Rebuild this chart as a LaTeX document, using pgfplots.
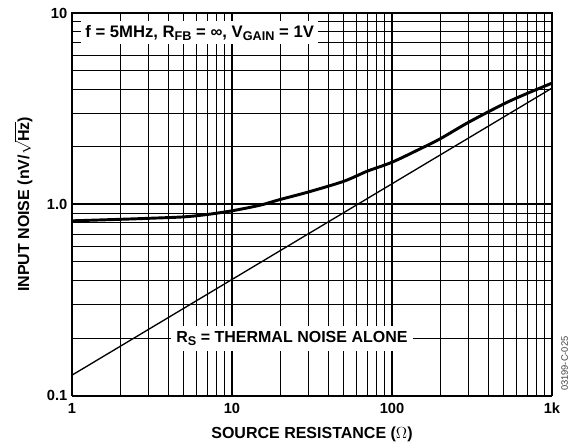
\documentclass[border=0pt]{standalone}
\usepackage{fontspec}
\setmainfont{Liberation Sans}
\usepackage{pgfplots}
\pgfplotsset{compat=1.18}

\newcommand{\sub}[1]{\raisebox{-0.35ex}{\fontsize{9.5}{10}\selectfont #1}}

\begin{document}
\begin{tikzpicture}
\begin{axis}[
    xmode=log, ymode=log,
    scale only axis,
    width=360pt, height=287pt,
    xmin=1, xmax=1000,
    ymin=0.1, ymax=10,
    xtick={1,10,100,1000},
    xticklabels={1,10,100,1k},
    ytick={0.1,1,10},
    yticklabels={0.1,1.0,10},
    /pgf/number format/assume math mode=true,
    ticklabel style={font=\fontsize{11}{12}\selectfont\bfseries},
    xticklabel style={yshift=-2pt},
    major tick length=0pt, minor tick length=0pt,
    grid=both,
    major grid style={black, line width=1.3pt},
    minor grid style={black, line width=0.7pt},
    axis line style={black, line width=1.1pt},
    xlabel={SOURCE RESISTANCE ($\Omega$)},
    ylabel={INPUT NOISE (nV/$\sqrt{\mbox{\bfseries Hz}}$)},
    label style={font=\fontsize{12}{14}\selectfont\bfseries},
    xlabel style={yshift=-3pt},
    ylabel style={yshift=4pt},
]
% total input noise
\addplot[black, line width=2.2pt, smooth] coordinates {
    (1,0.82) (2,0.835) (3,0.845) (5,0.86) (7,0.885) (10,0.925)
    (15,0.99) (20,1.06) (30,1.16) (50,1.32) (70,1.49) (100,1.66)
    (150,1.95) (200,2.2) (300,2.68) (500,3.35) (700,3.8) (1000,4.3)
};
% thermal noise of source resistance
\addplot[black, line width=1pt] coordinates {
    (1,0.128) (1000,4.05)
};
\node[fill=white, anchor=west, inner sep=3pt, font=\fontsize{12.5}{13}\selectfont\bfseries]
    at (axis cs:1.14,7.9)
    {f = 5MHz, R\sub{FB} = ∞, V\sub{GAIN} = 1V};
\node[fill=white, inner sep=4pt, font=\fontsize{12}{13}\selectfont\bfseries]
    at (axis cs:23.7,0.2) {R\sub{S} = THERMAL NOISE ALONE};
\end{axis}
\node[rotate=90, anchor=west, font=\fontsize{7}{8}\selectfont, text=black!75]
    at ([xshift=9.5pt]current axis.south east) {03199-C-025};
\pgfresetboundingbox
\path (-54pt,-37.5pt) rectangle (378pt,296.75pt);
\end{tikzpicture}
\end{document}
